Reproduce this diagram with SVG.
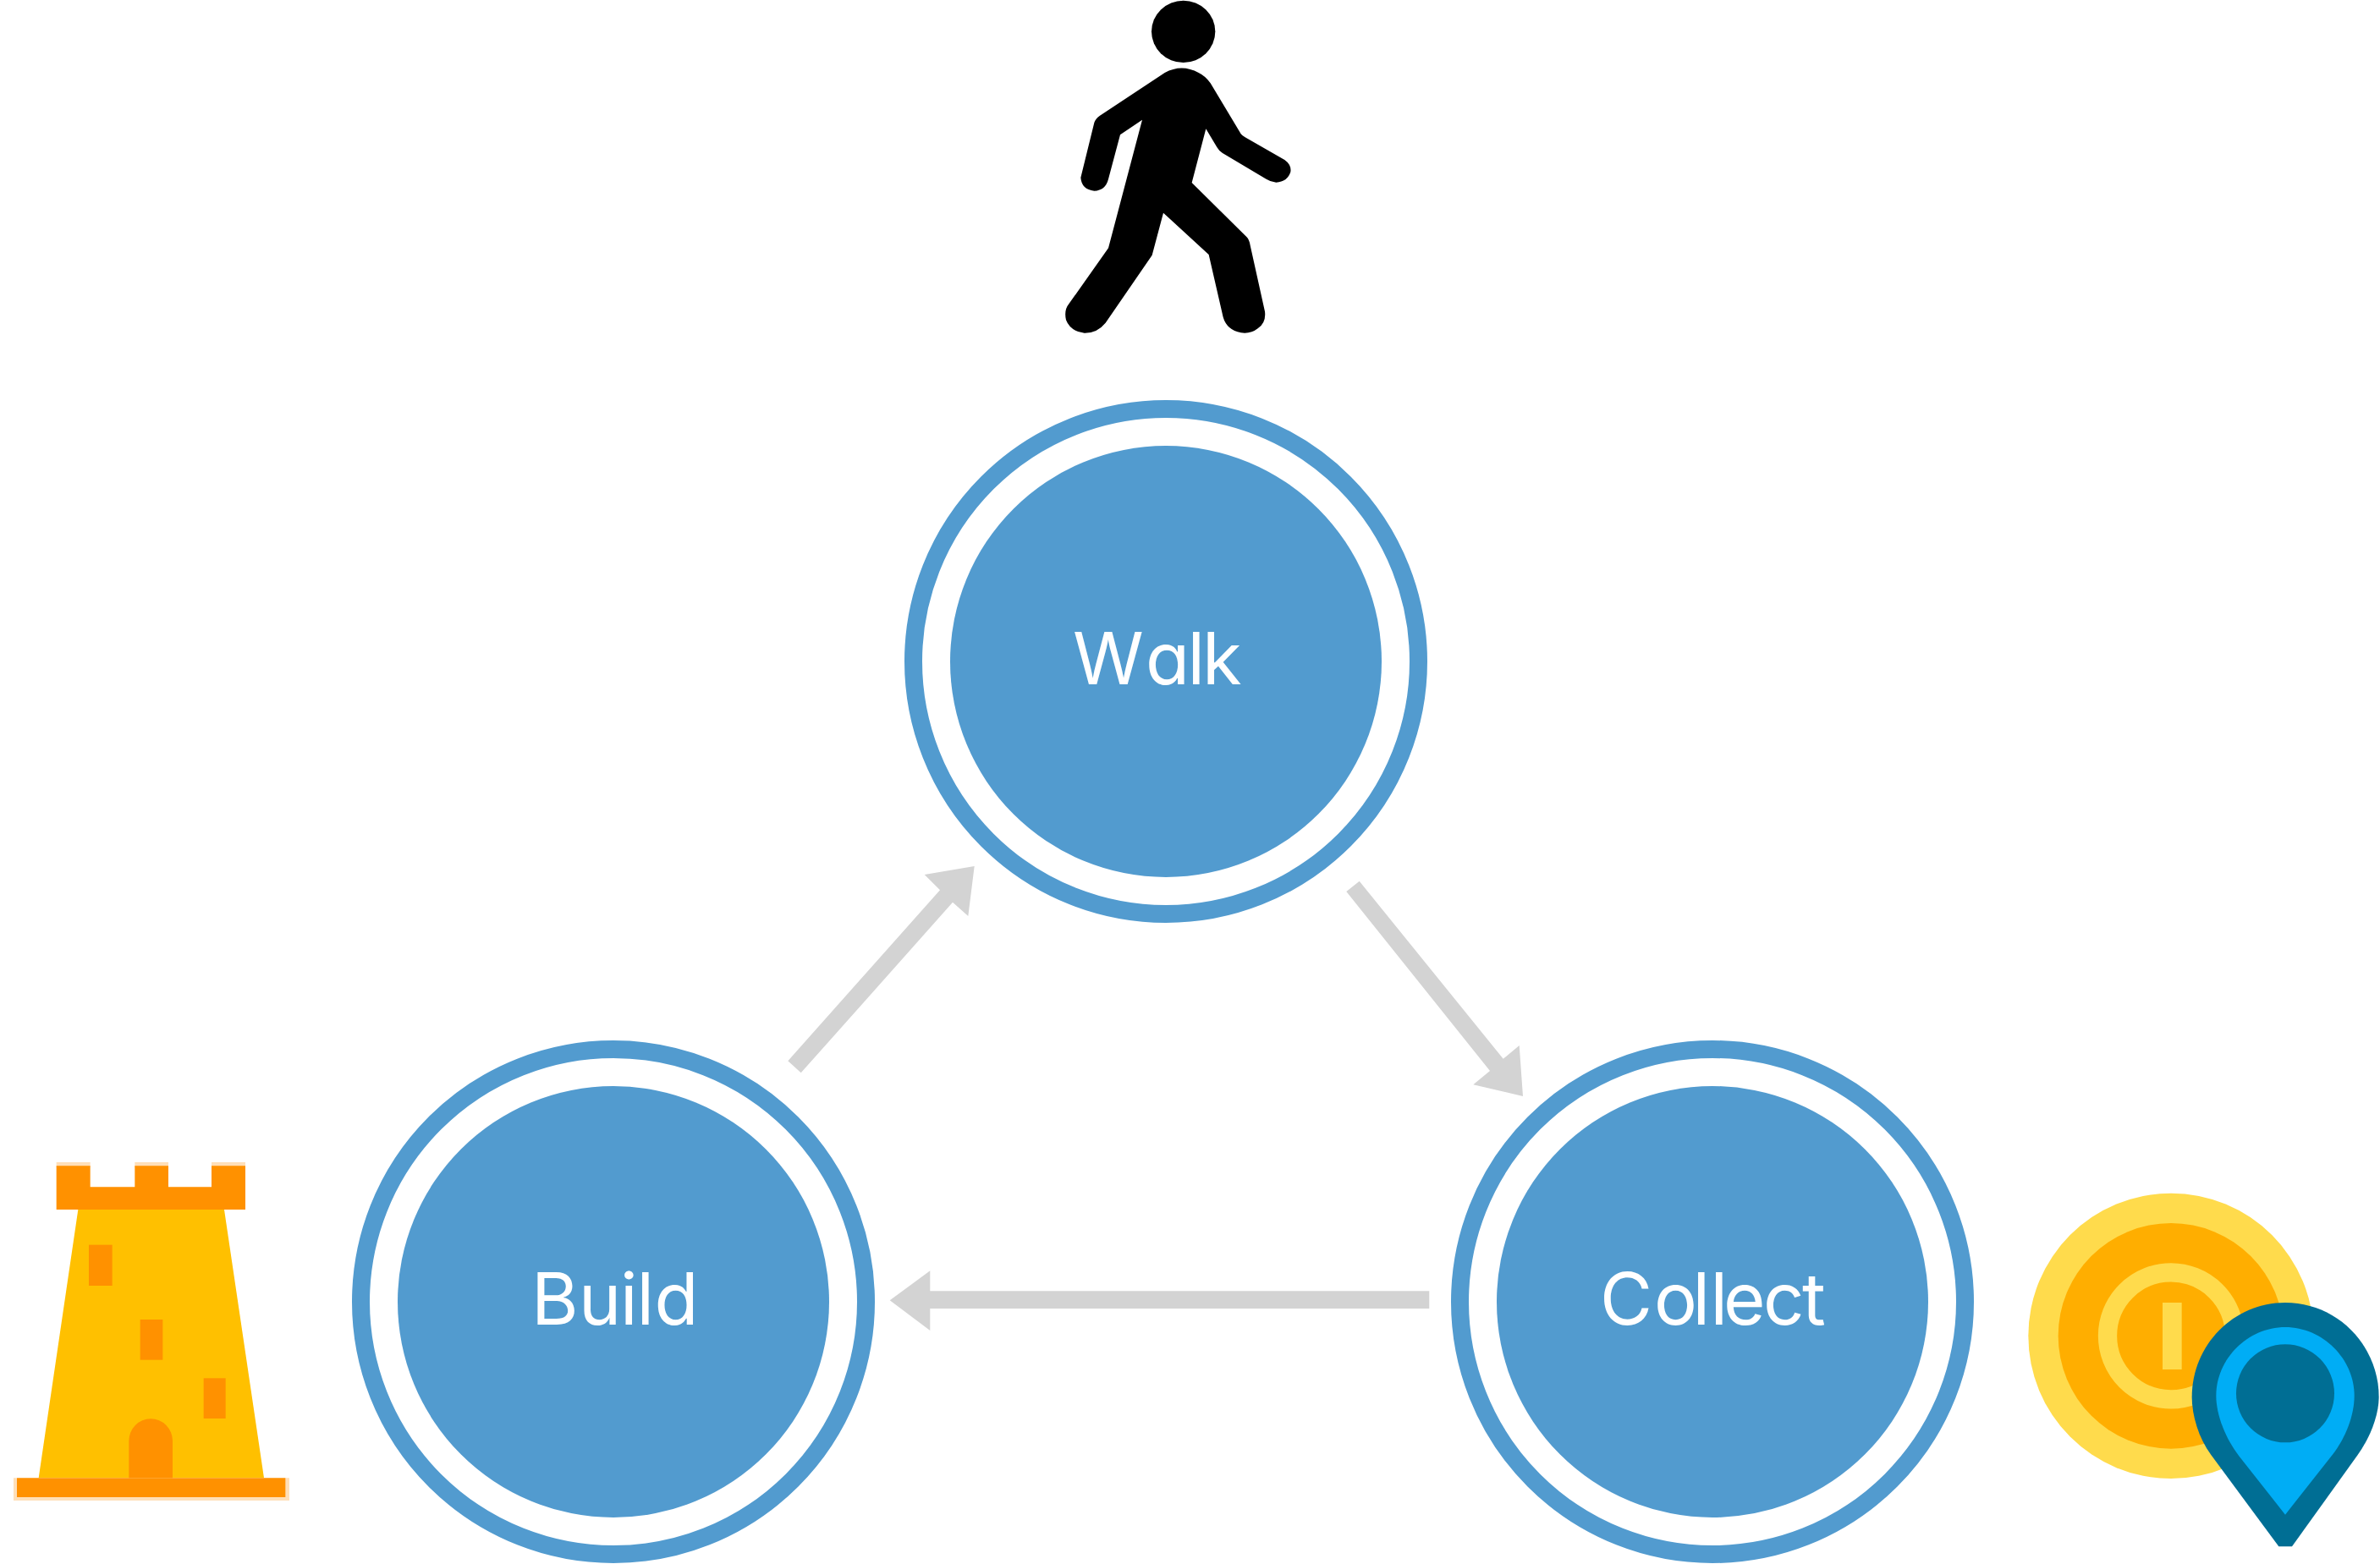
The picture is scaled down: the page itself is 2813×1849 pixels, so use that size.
<svg xmlns="http://www.w3.org/2000/svg" width="2813" height="1849" viewBox="0 0 2813 1849">
<defs><style>
.ring{fill:none;stroke:#529bcf;stroke-width:21}
.disc{fill:#529bcf}
.lbl{font-family:Inter,"Liberation Sans",sans-serif;font-size:85px;font-weight:400;fill:#fff;font-feature-settings:"cv11" 1}
.arrow{fill:#d3d3d3}
.o{fill:#ff9100}
.f{fill:#ffdfb8}
</style></defs>
<rect width="2813" height="1849" fill="#fff"/>
<g id="connectors">
<polygon class="arrow" points="931.3,1254.3 1111,1052.3 1092.7,1034 1151.7,1024 1144.3,1083 1126,1066.7 946.7,1268.3"/>
<polygon class="arrow" points="1606.7,1041.7 1776.7,1251.7 1795.7,1236 1800,1296 1741.3,1282.3 1761,1266 1591.3,1054"/>
<polygon class="arrow" points="1689.3,1526.3 1099.3,1526.3 1099.3,1502.3 1051.7,1537.3 1099.3,1573 1099.3,1547 1689.3,1547"/>
</g>
<g id="node-walk">
<circle class="ring" cx="1378" cy="782" r="298.5"/><circle class="disc" cx="1378" cy="782" r="255"/>
<text class="lbl" x="1268 1354 1403.5 1421" y="809">Walk</text>
</g>
<g id="node-build">
<circle class="ring" cx="725" cy="1539" r="298.5"/><circle class="disc" cx="725" cy="1539" r="255"/>
<text class="lbl" x="628 684 733 752.5 773.5" y="1566">Build</text>
</g>
<g id="node-collect">
<circle class="ring" cx="2024" cy="1539" r="298.5"/><circle class="disc" cx="2024" cy="1539" r="255"/>
<text class="lbl" x="1891 1955 2000.5 2021.5 2037 2084 2130" y="1566">Collect</text>
</g>
<g id="icon-walker" transform="translate(1200 0) scale(.33333)">
<ellipse cx="596" cy="112" rx="113" ry="110"/>
<path d="M530,258 Q590,225 650,258 Q675,270 692,295 L800,475 Q805,482 815,487 L955,567 Q980,585 976,610 Q965,645 925,647 Q905,645 890,635 L735,543 Q722,535 715,522 L676,457 L626,648 L820,840 Q830,850 833,870 L885,1105 Q890,1145 860,1165 Q835,1185 800,1180 Q750,1170 737,1125 L686,903 L525,755 L485,905 L320,1145 Q290,1182 245,1181 Q195,1175 180,1135 Q172,1100 190,1078 L330,880 L450,425 L372,478 L330,635 Q320,675 280,677 Q235,672 232,630 L280,435 Q285,420 300,410 Z"/>
</g>
<g id="icon-tower" transform="translate(0 1350) scale(.33333)">
<polygon points="277,240 795,240 936,1192 137,1192" fill="#ffc000"/>
<path class="f" d="M200,72H320V90H200ZM478,72H597V90H478ZM750,72H870V90H750ZM48,1192H1026V1272H48Z"/>
<polygon class="o" points="200,85 320,85 320,160 478,160 478,85 597,85 597,160 750,160 750,85 870,85 870,240 200,240"/>
<rect class="o" x="315" y="365" width="83" height="145"/>
<rect class="o" x="497" y="630" width="80" height="143"/>
<rect class="o" x="722" y="838" width="78" height="143"/>
<path class="o" d="M457,1192V1060A77.5,78 0 0 1 612,1060V1192Z"/>
<rect class="o" x="60" y="1192" width="952" height="68"/>
</g>
<g id="icon-coin" transform="translate(2360 1380) scale(.33333)">
<circle cx="618" cy="598" r="506" fill="#ffdb4c"/>
<circle cx="618" cy="598" r="400" fill="#ffae00"/>
<circle cx="618" cy="598" r="225" fill="none" stroke="#ffdb4c" stroke-width="67"/>
<rect x="588" y="480" width="68" height="237" fill="#ffdb4c"/>
</g>
<g id="icon-pin" transform="translate(2360 1380) scale(.33333)">
<path fill="#006e94" d="M1000,1345 L760,1020 C716,960 692,880 692,815 C692,630 840,480 1023,480 C1206,480 1355,630 1355,815 C1355,880 1323,960 1280,1020 L1047,1345 Z"/>
<path fill="#00adf5" d="M1023,1232 L860,1025 C813,965 778,880 778,810 C778,680 890,567 1023,567 C1156,567 1268,680 1268,810 C1268,880 1237,960 1190,1020 Z"/>
<circle cx="1023" cy="802" r="174" fill="#006e94"/>
</g>
</svg>
